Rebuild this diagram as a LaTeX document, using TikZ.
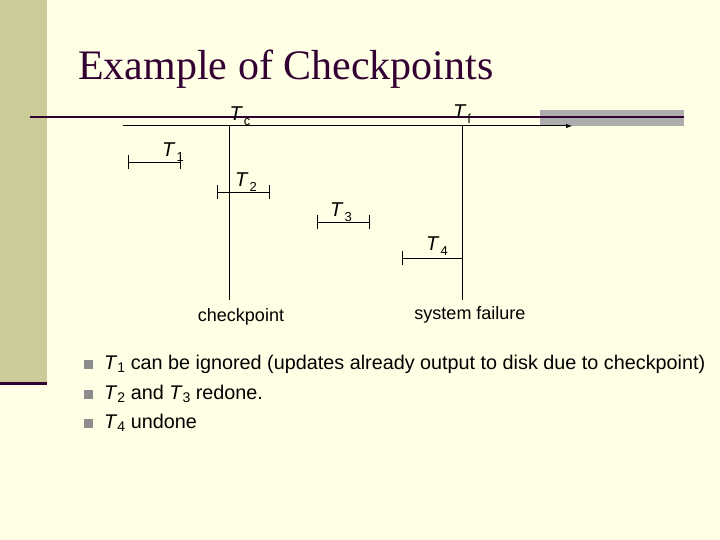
\documentclass[tikz,border=0pt]{standalone}
\usepackage{fontspec}
\setmainfont{Liberation Sans}
\newfontfamily\titlefont{Liberation Serif}
\newcommand{\Tsub}[1]{\textit{T}\hspace{1pt}\raisebox{-5pt}{\fontsize{13}{14}\selectfont\upshape #1}}
\newcommand{\Bsub}[1]{\textit{T}\raisebox{-3pt}{\fontsize{14}{15}\selectfont #1}}
\begin{document}
\begin{tikzpicture}[x=1pt,y=-1pt,
  lbl/.style={font=\fontsize{20}{22}\selectfont,inner sep=0pt},
  txt/.style={font=\fontsize{19.8}{22}\selectfont,inner sep=0pt,anchor=west},
  bar/.style={line width=0.9pt},
  bul/.style={fill=black!45,minimum size=9pt,inner sep=0pt}]
\useasboundingbox (0,0) rectangle (720,540);
\fill[fill={rgb,255:red,255;green,255;blue,229}] (0,0) rectangle (720,540);
\fill[fill={rgb,255:red,204;green,204;blue,153}] (0,0) rectangle (47,383);
\draw[line width=3pt,draw={rgb,255:red,51;green,0;blue,51}] (0,383) -- (47,383);
\node[anchor=west,inner sep=0pt,font=\titlefont\fontsize{42}{44}\selectfont,text={rgb,255:red,51;green,0;blue,51}] (title) at (78,69) {Example of Checkpoints};
\fill[black!32] (540,110) rectangle (684,126);
\draw[line width=2.5pt,draw={rgb,255:red,51;green,0;blue,51}] (30,117) -- (684,117);
\coordinate (as) at (123,126); \coordinate (ae) at (572,126);
\draw[-latex,line width=1pt] (as) -- (ae);
\coordinate (tc) at (229,126); \coordinate (tcb) at (229,300);
\coordinate (tf) at (462,126); \coordinate (tfb) at (462,300);
\draw[bar] (tc) -- (tcb); \draw[bar] (tf) -- (tfb);
\node[lbl] (lc) at (240,116) {\Tsub{c}};
\node[lbl] (lf) at (462,114) {\Tsub{f}};
\draw[bar] (128,162) -- (180,162); \draw[bar] (128,155)--(128,169); \draw[bar] (180,155)--(180,169);
\node[lbl] (t1) at (173,152) {\Tsub{1}};
\draw[bar] (217,192) -- (269,192); \draw[bar] (217,185)--(217,199); \draw[bar] (269,185)--(269,199);
\node[lbl] (t2) at (246,182) {\Tsub{2}};
\draw[bar] (317,222) -- (369,222); \draw[bar] (317,215)--(317,229); \draw[bar] (369,215)--(369,229);
\node[lbl] (t3) at (341,212) {\Tsub{3}};
\draw[bar] (402,258) -- (462,258); \draw[bar] (402,251)--(402,265);
\node[lbl] (t4) at (437,246) {\Tsub{4}};
\node[font=\fontsize{18}{20}\selectfont,inner sep=0pt] (cp) at (241,317) {checkpoint};
\node[font=\fontsize{18}{20}\selectfont,inner sep=0pt] (sf) at (470,315) {system failure};
\node[bul] (b1) at (88,364) {}; \node[bul] (b2) at (88,394) {}; \node[bul] (b3) at (88,423) {};
\node[txt] (l1) at (104,364) {\Bsub{1} can be ignored (updates already output to disk due to checkpoint)};
\node[txt] (l2) at (104,394) {\Bsub{2} and \Bsub{3} redone.};
\node[txt] (l3) at (104,423) {\Bsub{4} undone};
\end{tikzpicture}
\end{document}
